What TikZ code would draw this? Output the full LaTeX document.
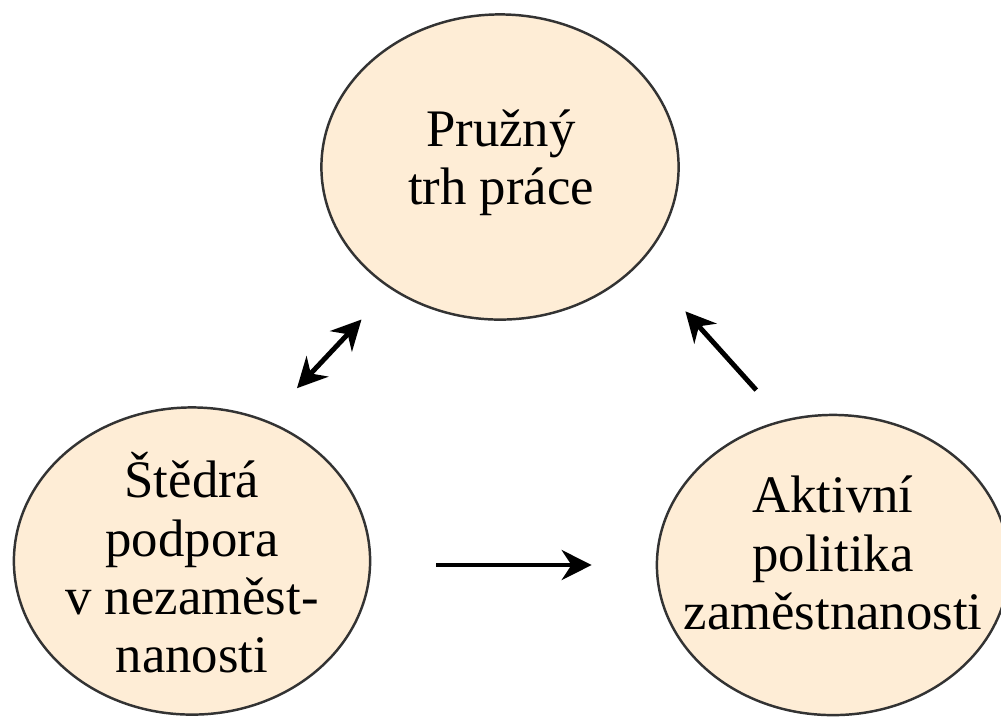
\documentclass[tikz,border=0pt]{standalone}
\usepackage{fontspec}
\setmainfont{Liberation Serif}
\usepackage{xcolor}
\usetikzlibrary{shapes.geometric,arrows.meta}

\definecolor{broskev}{RGB}{254,237,214}

\tikzset{
  kruh/.style={ellipse, draw=black!80, line width=0.7pt, fill=broskev, inner sep=0pt},
  popis/.style={align=center, inner sep=0pt, font=\fontsize{15}{16.6}\selectfont},
  sipka/.style={line width=1.4pt, -{Stealth[length=8.5pt,width=8.5pt]}},
  dvojsipka/.style={line width=1.4pt, {Stealth[length=8.5pt,width=8.5pt]}-{Stealth[length=8.5pt,width=8.5pt]}}
}

\begin{document}
\begin{tikzpicture}[x=0.01cm, y=-0.01cm]
            % Hranice obrazku
            \useasboundingbox (0,0) rectangle (1001,717);

            % Tri elipsy
            \node[kruh, minimum width=3.57cm, minimum height=3.05cm] (trh) at (500,167) {};
            \node[kruh, minimum width=3.56cm, minimum height=3.07cm] (podpora) at (192,561) {};
            \node[kruh, minimum width=3.52cm, minimum height=3.00cm] (politika) at (833,565) {};

            % Texty v elipsach
            \node[popis] (trhtext) at (501,163) {Pružný\\trh práce};
            \node[popis] (podporatext) at (192,563) {Štědrá\\podpora\\v nezaměst-\\nanosti};
            \node[popis] (politikatext) at (833,553) {Aktivní\\politika\\zaměstnanosti};

            % Sipky mezi elipsami
            \draw[dvojsipka, shorten <=0.44cm, shorten >=0.42cm] (podpora.62) -- (trh.228);
            \draw[sipka, shorten <=0.40cm, shorten >=0.66cm] (politika.109) -- (trh.326);
            \draw[sipka, shorten <=0.65cm, shorten >=0.64cm] (podpora.east |- politika.west) -- (politika.west);
        \end{tikzpicture}
\end{document}
